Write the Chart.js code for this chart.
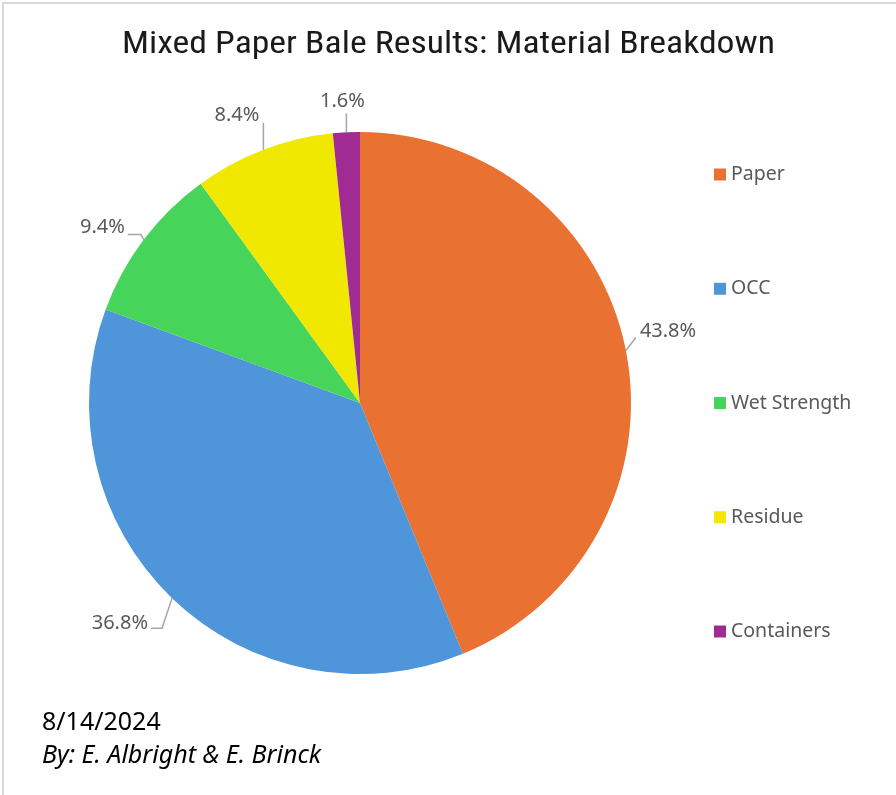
<!DOCTYPE html>
<html>
<head>
<meta charset="utf-8">
<script src="https://cdn.jsdelivr.net/npm/chart.js@4.4.1/dist/chart.umd.min.js"></script>
<style>
  html, body { margin: 0; padding: 0; background: #fff; }
  #wrap {
    position: absolute; left: 2px; top: 2px; width: 894px; height: 793px;
    border-top: 2px solid #d9d9d9; border-left: 2px solid #d9d9d9;
    box-sizing: border-box;
  }
  canvas { position: absolute; left: 0; top: 0; }
</style>
</head>
<body>
<div id="wrap"></div>
<canvas id="pieChart" width="896" height="795"></canvas>
<script>
var categories = ["Paper", "OCC", "Wet Strength", "Residue", "Containers"];
var shares = [43.8, 36.8, 9.4, 8.4, 1.6];
var sliceColors = ["#E97132", "#4E95D9", "#47D45A", "#F0E800", "#A02B93"];

var chartTitle = "Mixed Paper Bale Results: Material Breakdown";
var dateNote = "8/14/2024";
var authorNote = "By: E. Albright & E. Brinck";

var labelFont = '20px "Noto Sans", sans-serif';
var legendFont = '19.5px "Noto Sans", sans-serif';
var labelColor = "#595959";

// leader line shape + text spot, relative to the slice's outer edge midpoint
var labelLayout = [
  { line: [[10, -13]], text: [14, -19], align: "left" },
  { line: [[-10, 30], [-21, 30]], text: [-24, 25], align: "right" },
  { line: [[-3, -5], [-16, -5]], text: [-19, -12], align: "right" },
  { line: [[0, -27]], text: [-4, -34], align: "right" },
  { line: [[0, -19]], text: [-4, -31], align: "center" },
];

var extrasPlugin = {
  id: "extras",
  afterDraw: function (chart) {
    var ctx = chart.ctx;
    var arcs = chart.getDatasetMeta(0).data;
    ctx.save();

    // title, condensed font stretched to the original width
    ctx.fillStyle = "#1a1a1a";
    ctx.font = '31px "Roboto Condensed", "Liberation Sans Narrow", sans-serif';
    ctx.textAlign = "center";
    ctx.textBaseline = "middle";
    var tw = ctx.measureText(chartTitle).width;
    ctx.save();
    ctx.translate(448.5, 45);
    ctx.scale(653 / tw, 1);
    ctx.fillText(chartTitle, 0, 0);
    ctx.restore();

    // data labels with leader lines
    ctx.font = labelFont;
    ctx.strokeStyle = "#a6a6a6";
    ctx.lineWidth = 1.5;
    arcs.forEach(function (arc, i) {
      var p = arc.getProps(["x", "y", "startAngle", "endAngle", "outerRadius"], true);
      var mid = (p.startAngle + p.endAngle) / 2;
      var ex = p.x + Math.cos(mid) * p.outerRadius;
      var ey = p.y + Math.sin(mid) * p.outerRadius;
      var lay = labelLayout[i];
      ctx.beginPath();
      ctx.moveTo(ex, ey);
      lay.line.forEach(function (pt) {
        ctx.lineTo(ex + pt[0], ey + pt[1]);
      });
      ctx.stroke();
      ctx.fillStyle = labelColor;
      ctx.textAlign = lay.align;
      ctx.textBaseline = "middle";
      ctx.fillText(shares[i].toFixed(1) + "%", ex + lay.text[0], ey + lay.text[1]);
    });

    // legend on the right
    var step = 114.25;
    var top = chart.chartArea.top + (chart.chartArea.bottom - chart.chartArea.top) / 2 - step * 2;
    ctx.font = legendFont;
    ctx.textAlign = "left";
    ctx.textBaseline = "middle";
    categories.forEach(function (name, i) {
      var cy = top + i * step;
      ctx.fillStyle = sliceColors[i];
      ctx.fillRect(714, cy - 6, 12, 12);
      ctx.fillStyle = labelColor;
      ctx.fillText(name, 731, cy);
    });

    // footer notes
    ctx.fillStyle = "#000";
    ctx.textBaseline = "alphabetic";
    ctx.font = '25px "Noto Sans", sans-serif';
    ctx.fillText(dateNote, 42, 730);
    ctx.font = 'italic 25px "Noto Sans", sans-serif';
    ctx.fillText(authorNote, 42, 763);

    ctx.restore();
  },
};

new Chart(document.getElementById("pieChart"), {
  type: "pie",
  data: {
    labels: categories,
    datasets: [
      {
        data: shares,
        backgroundColor: sliceColors,
        borderWidth: 0,
      },
    ],
  },
  options: {
    responsive: false,
    animation: false,
    layout: {
      padding: { left: 89, right: 265, top: 132, bottom: 121 },
    },
    plugins: {
      legend: { display: false },
      title: { display: false },
      tooltip: { enabled: false },
    },
  },
  plugins: [extrasPlugin],
});
</script>
</body>
</html>
